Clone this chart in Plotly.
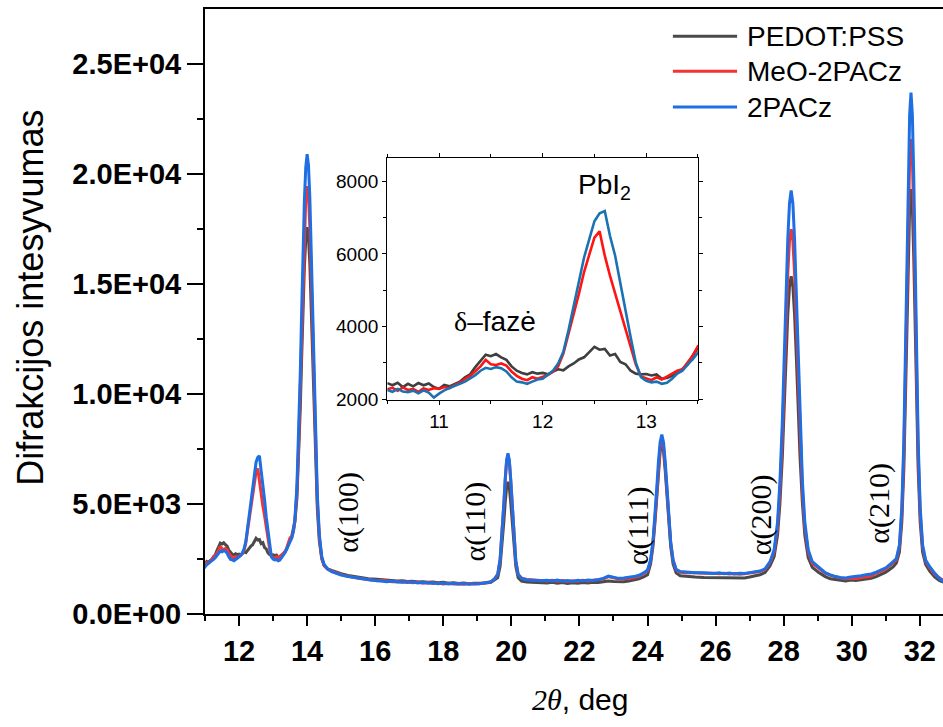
import plotly.graph_objects as go

# ---------------- data ----------------
series_names = ["PEDOT:PSS", "MeO-2PACz", "2PACz"]

# 2θ (deg), fine window around the δ-phase / PbI2 reflections
two_theta_low = [
    10.50, 10.55, 10.60, 10.65, 10.70, 10.75, 10.80, 10.85, 10.90, 10.95,
    11.00, 11.05, 11.10, 11.15, 11.20, 11.25, 11.30, 11.35, 11.40, 11.45,
    11.50, 11.55, 11.60, 11.65, 11.70, 11.75, 11.80, 11.85, 11.90, 11.95,
    12.00, 12.05, 12.10, 12.15, 12.20, 12.25, 12.30, 12.35, 12.40, 12.45,
    12.50, 12.55, 12.60, 12.65, 12.70, 12.75, 12.80, 12.85, 12.90, 12.95,
    13.00, 13.05, 13.10, 13.15, 13.20, 13.25, 13.30, 13.35, 13.40, 13.45,
    13.50]

# 2θ (deg), rest of the scan
two_theta_high = [
    13.55, 13.6, 13.64, 13.7, 13.75, 13.8, 13.84, 13.88, 13.92, 13.96,
    14.0, 14.04, 14.08, 14.12, 14.16, 14.2, 14.25, 14.3, 14.36, 14.43,
    14.5, 14.6, 14.72, 14.85, 15.0, 15.2, 15.4, 15.6, 15.8, 16.05,
    16.2, 16.35, 16.5, 16.65, 16.8, 16.95, 17.1, 17.25, 17.4, 17.55,
    17.7, 17.85, 18.0, 18.15, 18.3, 18.45, 18.6, 18.75, 18.9, 19.05,
    19.25, 19.4, 19.5, 19.6, 19.67, 19.73, 19.78, 19.82, 19.86, 19.9,
    19.94, 19.98, 20.02, 20.07, 20.13, 20.2, 20.3, 20.45, 20.65, 20.85,
    21.05, 21.2, 21.35, 21.5, 21.65, 21.8, 21.95, 22.1, 22.25, 22.4,
    22.55, 22.7, 22.85, 23.0, 23.15, 23.3, 23.45, 23.6, 23.75, 23.9,
    24.0, 24.09, 24.16, 24.22, 24.27, 24.32, 24.37, 24.42, 24.47, 24.52,
    24.57, 24.62, 24.68, 24.75, 24.84, 24.96, 25.15, 25.4, 25.65, 25.95,
    26.1, 26.25, 26.4, 26.55, 26.7, 26.85, 27.0, 27.15, 27.3, 27.45,
    27.6, 27.72, 27.82, 27.89, 27.96, 28.02, 28.07, 28.12, 28.17, 28.22,
    28.27, 28.32, 28.37, 28.42, 28.48, 28.55, 28.62, 28.72, 28.84, 29.02,
    29.22, 29.37, 29.52, 29.67, 29.82, 29.97, 30.12, 30.27, 30.42, 30.57,
    30.72, 30.87, 31.0, 31.12, 31.22, 31.31, 31.4, 31.47, 31.53, 31.58,
    31.62, 31.66, 31.7, 31.74, 31.78, 31.82, 31.86, 31.9, 31.95, 32.01,
    32.08, 32.17, 32.29, 32.44, 32.58, 32.7]

pedot_low = [
    2440, 2380, 2450, 2330, 2420, 2350, 2440, 2380, 2430, 2330,
    2280, 2390, 2350, 2420, 2480, 2600, 2680, 2880, 3050, 3220,
    3180, 3240, 3150, 3080, 2900, 2780, 2720, 2680, 2740, 2700,
    2720, 2680, 2760, 2820, 2790, 2900, 2980, 3090, 3150, 3300,
    3440, 3360, 3380, 3200, 3240, 3020, 2960, 2780, 2700, 2680,
    2690, 2650, 2680, 2560, 2580, 2640, 2720, 2830, 2950, 3200,
    3420]
meo_low = [
    2270, 2310, 2230, 2320, 2250, 2280, 2200, 2290, 2250, 2300,
    2280, 2330, 2300, 2390, 2450, 2560, 2640, 2760, 2900, 3080,
    2960, 2940, 2980, 2920, 2760, 2640, 2560, 2520, 2600, 2560,
    2620, 2660, 2750, 2900, 3250, 3800, 4300, 4900, 5500, 5950,
    6450, 6620, 5950, 5400, 4900, 4470, 3950, 3400, 2950, 2620,
    2560, 2520, 2600, 2540, 2620, 2700, 2780, 2820, 3000, 3200,
    3460]
pacz_low = [
    2250, 2200, 2280, 2210, 2190, 2230, 2160, 2240, 2180, 2040,
    2150, 2240, 2300, 2350, 2420, 2480, 2560, 2660, 2780, 2860,
    2830, 2880, 2850, 2760, 2600, 2480, 2460, 2420, 2480, 2540,
    2560, 2660, 2780, 2980, 3300, 3900, 4600, 5300, 5900, 6400,
    6900, 7120, 7180, 6500, 5950, 5200, 4400, 3700, 3000, 2600,
    2500, 2460, 2480, 2420, 2450, 2560, 2700, 2780, 2950, 3100,
    3280]

pedot_high = [
    3550, 3850, 4200, 5250, 7000, 9400, 11700, 13900, 15800, 17000,
    17580, 17150, 15900, 13900, 11600, 9300, 6800, 4800, 3300, 2500,
    2200, 2050, 1980, 1900, 1830, 1750, 1690, 1650, 1600, 1580,
    1560, 1530, 1540, 1500, 1510, 1480, 1490, 1460, 1470, 1440,
    1450, 1420, 1440, 1400, 1420, 1390, 1410, 1380, 1400, 1390,
    1410, 1440, 1530, 1650, 2180, 3120, 4220, 5100, 5760, 6010,
    5760, 5100, 4220, 3120, 2180, 1650, 1490, 1450, 1430, 1440,
    1410, 1440, 1400, 1430, 1390, 1420, 1400, 1430, 1410, 1440,
    1430, 1470, 1500, 1480, 1460, 1470, 1500, 1540, 1600, 1700,
    1780, 2280, 3080, 4200, 5360, 6520, 7380, 7700, 7380, 6520,
    5360, 4200, 3080, 2280, 1870, 1740, 1700, 1680, 1660, 1650,
    1640, 1660, 1630, 1650, 1620, 1640, 1680, 1720, 1780, 1880,
    2190, 2610, 3590, 5040, 7140, 9610, 11730, 13610, 14890, 15350,
    14890, 13610, 11730, 9610, 7140, 5040, 3590, 2560, 2120, 1900,
    1700, 1600, 1560, 1520, 1500, 1540, 1520, 1560, 1580, 1620,
    1700, 1800, 1900, 2030, 2150, 2320, 2820, 4180, 6620, 10060,
    13260, 16290, 18500, 19310, 18500, 16290, 13260, 10060, 6620, 4180,
    2820, 2250, 1950, 1680, 1520, 1450]
meo_high = [
    3500, 3780, 4200, 5550, 7600, 10300, 12900, 15400, 17500, 18900,
    19450, 19000, 17600, 15300, 12700, 10100, 7300, 5100, 3450, 2550,
    2220, 2040, 1950, 1860, 1790, 1710, 1650, 1600, 1570, 1510,
    1530, 1490, 1470, 1480, 1440, 1460, 1420, 1450, 1400, 1430,
    1390, 1410, 1370, 1400, 1360, 1380, 1350, 1390, 1360, 1380,
    1430, 1470, 1590, 1810, 2490, 3680, 5000, 6100, 6930, 7240,
    6930, 6100, 4970, 3600, 2400, 1790, 1630, 1570, 1550, 1530,
    1500, 1530, 1490, 1520, 1480, 1510, 1490, 1530, 1500, 1540,
    1550, 1590, 1700, 1660, 1590, 1600, 1610, 1660, 1720, 1850,
    1960, 2420, 3240, 4370, 5550, 6720, 7590, 7920, 7590, 6720,
    5550, 4370, 3240, 2440, 2020, 1900, 1870, 1880, 1850, 1850,
    1830, 1850, 1820, 1840, 1810, 1830, 1860, 1880, 1930, 2020,
    2340, 2820, 3950, 5620, 8040, 10890, 13330, 15480, 16960, 17490,
    16960, 15480, 13330, 10890, 8040, 5620, 3950, 2820, 2300, 2080,
    1850, 1760, 1680, 1630, 1600, 1630, 1610, 1650, 1680, 1720,
    1850, 1950, 2050, 2200, 2330, 2470, 3040, 4570, 7310, 11190,
    14790, 18200, 20690, 21590, 20690, 18200, 14790, 11190, 7310, 4570,
    3040, 2400, 2100, 1800, 1620, 1500]
pacz_high = [
    3450, 3800, 4300, 5800, 8000, 11000, 13800, 16500, 18800, 20300,
    20900, 20400, 18900, 16500, 13700, 10900, 7800, 5400, 3600, 2600,
    2250, 2050, 1930, 1850, 1770, 1700, 1640, 1610, 1560, 1530,
    1510, 1470, 1500, 1450, 1470, 1430, 1460, 1410, 1440, 1400,
    1420, 1380, 1410, 1370, 1400, 1360, 1390, 1350, 1380, 1370,
    1420, 1460, 1580, 1800, 2500, 3700, 5050, 6150, 6990, 7300,
    6990, 6150, 5020, 3630, 2420, 1800, 1620, 1560, 1540, 1510,
    1530, 1500, 1540, 1490, 1520, 1480, 1530, 1500, 1550, 1520,
    1560, 1620, 1720, 1680, 1620, 1640, 1660, 1700, 1760, 1880,
    2000, 2450, 3290, 4470, 5690, 6910, 7810, 8150, 7810, 6910,
    5690, 4470, 3290, 2460, 2030, 1930, 1900, 1870, 1880, 1840,
    1870, 1830, 1860, 1820, 1850, 1840, 1880, 1900, 1950, 2050,
    2380, 2920, 4180, 6030, 8730, 11900, 14610, 17020, 18660, 19250,
    18660, 17020, 14610, 11900, 8730, 6030, 4180, 2920, 2380, 2150,
    1880, 1780, 1700, 1660, 1640, 1680, 1700, 1740, 1780, 1820,
    1900, 2000, 2100, 2250, 2380, 2520, 3150, 4840, 7880, 12180,
    16170, 19950, 22700, 23700, 22700, 19950, 16170, 12180, 7880, 4840,
    3150, 2450, 2150, 1850, 1600, 1480]

# y tick labels of the main panel
y_tick_values = [0, 5000, 10000, 15000, 20000, 25000]
y_tick_labels = ["0.0E+00", "5.0E+03", "1.0E+04", "1.5E+04", "2.0E+04", "2.5E+04"]

# perovskite reflections: label, 2θ position, label height
refl_labels = ["α(100)", "α(110)", "α(111)", "α(200)", "α(210)"]
refl_x = [15.20, 18.92, 23.70, 27.33, 30.80]
refl_y = [4650, 4190, 4010, 4530, 5010]

# ---------------- styling ----------------
SANS = "Liberation Sans"
SERIF = "Liberation Serif"
main_colors = ["#4a4a4a", "#f23434", "#1f6fe3"]
inset_colors = ["#3f3f3f", "#ff1414", "#1b72b2"]

two_theta = two_theta_low + two_theta_high
series = [pedot_low + pedot_high, meo_low + meo_high, pacz_low + pacz_high]
for s in series:
    assert len(s) == len(two_theta)

fig = go.Figure()

# main panel traces
for name, ys, col in zip(series_names, series, main_colors):
    fig.add_trace(go.Scatter(
        x=two_theta, y=ys, mode="lines", name=name,
        line=dict(color=col, width=3), showlegend=False,
        xaxis="x", yaxis="y"))

# inset traces
for name, ys, col in zip(series_names, series, inset_colors):
    fig.add_trace(go.Scatter(
        x=two_theta, y=ys, mode="lines", name=name,
        line=dict(color=col, width=2.6), showlegend=False,
        xaxis="x2", yaxis="y2"))

axis_black = dict(showline=True, linecolor="black", showgrid=False,
                  zeroline=False, automargin=False)

fig.update_layout(
    template="none",
    width=943, height=727,
    margin=dict(l=205, r=0, t=9, b=113),
    paper_bgcolor="white", plot_bgcolor="white",
    font=dict(family=SANS, color="black"),
    xaxis=dict(
        **axis_black, domain=[0, 1], range=[11, 32.68], linewidth=2,
        mirror=True, ticks="outside", ticklen=10, tickwidth=2,
        tick0=12, dtick=2, tickcolor="black",
        minor=dict(ticks="outside", dtick=1, ticklen=5, tickwidth=2, tickcolor="black"),
        tickfont=dict(family=SANS, size=29, weight="bold"),
        ticklabelstandoff=0,
    ),
    yaxis=dict(
        **axis_black, domain=[0, 1], range=[0, 27500], linewidth=2,
        ticks="outside", ticklen=16, tickwidth=2, tickcolor="black",
        tickvals=y_tick_values, ticktext=y_tick_labels,
        minor=dict(ticks="outside", tickvals=[2500, 7500, 12500, 17500, 22500],
                   ticklen=6, tickwidth=2, tickcolor="black"),
        tickfont=dict(family=SANS, size=29, weight="bold"),
    ),
    xaxis2=dict(
        **axis_black, domain=[0.247, 0.668], anchor="y2", range=[10.5, 13.5],
        linewidth=1.3, mirror="allticks", ticks="outside", ticklen=4,
        tickwidth=1.2, tick0=11, dtick=1, tickcolor="black",
        minor=dict(ticks="outside", dtick=0.5, ticklen=3, tickwidth=1),
        tickfont=dict(family=SANS, size=19),
    ),
    yaxis2=dict(
        **axis_black, domain=[0.3535, 0.753], anchor="x2", range=[1970, 8630],
        linewidth=1.3, mirror="allticks", ticks="outside", ticklen=4,
        tickwidth=1.2, tickvals=[2000, 4000, 6000, 8000], tickcolor="black",
        minor=dict(ticks="outside", tickvals=[3000, 5000, 7000], ticklen=3, tickwidth=1),
        tickfont=dict(family=SANS, size=19),
    ),
)

annotations = []
# axis titles
annotations.append(dict(
    text="Difrakcijos intesyvumas", xref="paper", yref="paper",
    x=-0.237, y=0.523, textangle=-90, showarrow=False,
    xanchor="center", yanchor="middle", font=dict(family=SANS, size=36)))
annotations.append(dict(
    text=f"<span style='font-family:{SERIF}'><i>2θ</i></span>, deg",
    xref="paper", yref="paper", x=0.508, y=-0.142, showarrow=False,
    xanchor="center", yanchor="middle", font=dict(family=SANS, size=30)))

# reflection labels
for lab, xv, yv in zip(refl_labels, refl_x, refl_y):
    annotations.append(dict(
        text=lab, x=xv, y=yv, xref="x", yref="y", textangle=-90,
        showarrow=False, xanchor="center", yanchor="middle",
        font=dict(family=SERIF, size=30)))

# inset labels
annotations.append(dict(
    text=f"<span style='font-family:{SERIF}'>δ</span>–fazė",
    x=11.54, y=4140, xref="x2", yref="y2", showarrow=False,
    xanchor="center", yanchor="middle", font=dict(family=SANS, size=28)))
annotations.append(dict(
    text="PbI<sub>2</sub>", x=12.60, y=7850, xref="x2", yref="y2", showarrow=False,
    xanchor="center", yanchor="middle", font=dict(family=SANS, size=28)))

# legend
legend_y = [0.955, 0.897, 0.838]
shapes = []
for name, col, ly in zip(series_names, main_colors, legend_y):
    shapes.append(dict(type="line", xref="paper", yref="paper",
                       x0=0.634, x1=0.721, y0=ly, y1=ly,
                       line=dict(color=col, width=3)))
    annotations.append(dict(
        text=name, xref="paper", yref="paper", x=0.732, y=ly,
        xanchor="left", yanchor="middle", showarrow=False,
        font=dict(family=SANS, size=28)))

fig.update_layout(annotations=annotations, shapes=shapes)

fig.write_html("out.html", config={"displayModeBar": False})
